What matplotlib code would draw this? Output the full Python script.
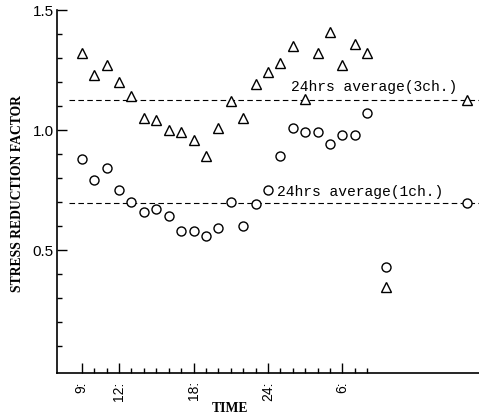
#!/usr/bin/env python3

import numpy as np
import matplotlib.pyplot as plt

# hourly readings, 9:00 to 8:00 next morning (hours counted past midnight as 24+)
hours = list(range(9, 33))
srf_3ch = [1.32, 1.23, 1.27, 1.20, 1.14, 1.05, 1.04, 1.00, 0.99, 0.96, 0.89, 1.01,
           1.12, 1.05, 1.19, 1.24, 1.28, 1.35, 1.13, 1.32, 1.41, 1.27, 1.36, 1.32]
srf_1ch = [0.88, 0.79, 0.84, 0.75, 0.70, 0.66, 0.67, 0.64, 0.58, 0.58, 0.56, 0.59,
           0.70, 0.60, 0.69, 0.75, 0.89, 1.01, 0.99, 0.99, 0.94, 0.98, 0.98, 1.07]

# isolated readings
extra_hour = 33.5
extra_3ch = 0.345
extra_1ch = 0.43

# 24hrs averages, also plotted as points at the right
avg_hour = 40
avg_3ch = 1.125
avg_1ch = 0.694

xtick_pos = [9, 12, 18, 24, 30]
xtick_labels = ["9:", "12:", "18:", "24:", "6:"]

fig = plt.figure(figsize=(4.79, 4.16), dpi=100)
ax = fig.add_axes([57 / 479, 43 / 416, 422 / 479, 363 / 416])

mk = dict(ls="none", mfc="white", mec="black", mew=1.0, clip_on=False)

# average lines
ax.plot([8, 41], [avg_3ch, avg_3ch], color="black", lw=0.8, ls=(0, (5, 3)))
ax.plot([8, 41], [avg_1ch, avg_1ch], color="black", lw=0.8, ls=(0, (5, 3)))

ax.plot(hours, srf_3ch, marker="^", ms=7, **mk)
ax.plot(hours, srf_1ch, marker="o", ms=6.5, **mk)
ax.plot([extra_hour], [extra_3ch], marker="^", ms=7, **mk)
ax.plot([extra_hour], [extra_1ch], marker="o", ms=6.5, **mk)
ax.plot([avg_hour], [avg_3ch], marker="^", ms=7, **mk)
ax.plot([avg_hour], [avg_1ch], marker="o", ms=6.5, **mk)

mono = "Liberation Mono"
ax.text(25.85, 1.18, "24hrs average(3ch.)", family=mono, fontsize=10.5, va="center", ha="left")
ax.text(24.7, 0.74, "24hrs average(1ch.)", family=mono, fontsize=10.5, va="center", ha="left")

ax.set_xlim(7, 41)
ax.set_ylim(-0.0125, 1.5)

ax.set_xticks(xtick_pos)
ax.set_xticklabels(xtick_labels, rotation=90, family="Liberation Sans", fontsize=10)
ax.set_xticks(np.arange(9, 33), minor=True)

ax.set_yticks([0.5, 1.0, 1.5])
ax.set_yticklabels(["0.5", "1.0", "1.5"], family="Liberation Sans", fontsize=11)
ax.set_yticks(np.arange(0.1, 1.5, 0.1), minor=True)

ax.tick_params(axis="both", which="major", direction="in", length=7, width=1.0)
ax.tick_params(axis="both", which="minor", direction="in", length=3.5, width=1.0)
ax.tick_params(axis="x", which="major", pad=6)
ax.tick_params(axis="y", which="major", pad=2.5)

for s in ["top", "right"]:
    ax.spines[s].set_visible(False)
for s in ["left", "bottom"]:
    ax.spines[s].set_linewidth(1.2)

serif = "Liberation Serif"
fig.text(18 / 479, 1 - 194 / 416, "STRESS REDUCTION FACTOR", family=serif, fontweight="bold",
         fontsize=9.8, rotation=90, ha="center", va="center")
fig.text(230 / 479, 1 - 409 / 416, "TIME", family=serif, fontweight="bold",
         fontsize=9.8, ha="center", va="center")

plt.savefig("out.png", dpi=100)
